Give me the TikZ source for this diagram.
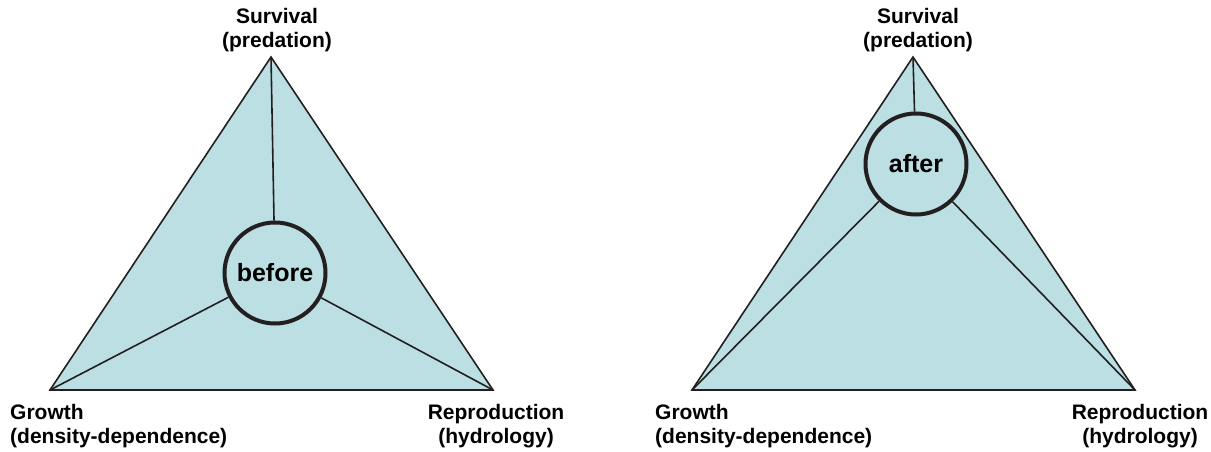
\documentclass[tikz,border=0pt]{standalone}
\usepackage{fontspec}
\setmainfont{Liberation Sans}
\definecolor{tri}{RGB}{187,223,227}
\definecolor{ink}{RGB}{35,31,32}
\tikzset{
  triangle/.style={fill=tri, draw=ink, line width=1.6pt, line join=miter},
  spoke/.style={draw=ink, line width=1.6pt},
  state/.style={circle, draw=ink, line width=4pt, minimum size=101pt, inner sep=0pt, font=\fontsize{25}{27}\selectfont\bfseries},
  lab/.style={inner sep=0pt, font=\fontsize{21}{24}\selectfont\bfseries}
}
\begin{document}
\begin{tikzpicture}[x=1pt,y=-1pt]
\useasboundingbox (0,0) rectangle (1211,452);
% left triangle
\coordinate (ls) at (271,57);
\coordinate (lg) at (50,390);
\coordinate (lr) at (493,390);
\draw[triangle] (ls) -- (lg) -- (lr) -- cycle;
\node[state] (before) at (275,273) {before};
\draw[spoke] (ls) -- (before);
\draw[spoke] (lg) -- (before);
\draw[spoke] (lr) -- (before);
% right triangle
\coordinate (rs) at (913,57);
\coordinate (rg) at (692,390);
\coordinate (rr) at (1135,390);
\draw[triangle] (rs) -- (rg) -- (rr) -- cycle;
\node[state] (after) at (916,164) {after};
\draw[spoke] (rs) -- (after);
\draw[spoke] (rg) -- (after);
\draw[spoke] (rr) -- (after);
% labels
\node[lab, align=center, anchor=north] (ls-lab) at (277,8) {Survival\\(predation)};
\node[lab, align=left, anchor=north west] (lg-lab) at (10,404) {Growth\\(density-dependence)};
\node[lab, align=center, anchor=north] (lr-lab) at (496,404) {Reproduction\\(hydrology)};
\node[lab, align=center, anchor=north] (rs-lab) at (918,8) {Survival\\(predation)};
\node[lab, align=left, anchor=north west] (rg-lab) at (655,404) {Growth\\(density-dependence)};
\node[lab, align=center, anchor=north] (rr-lab) at (1140,404) {Reproduction\\(hydrology)};
\end{tikzpicture}
\end{document}
